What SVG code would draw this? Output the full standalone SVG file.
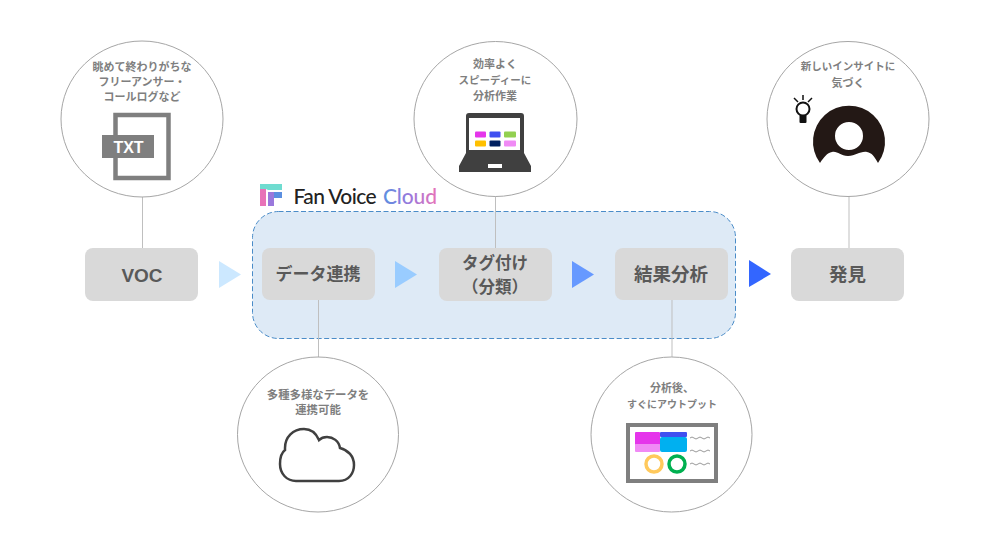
<svg xmlns="http://www.w3.org/2000/svg" width="1000" height="549" viewBox="0 0 1000 549">
<style>
.jp{font-family:"Noto Sans CJK JP","Noto Sans",sans-serif;font-weight:700;text-anchor:middle}
.cap{font-size:11px;fill:#7f7f7f}
.lab{font-size:17px;fill:#595959}
.lab2{font-size:18.500px;fill:#595959}
.bub{fill:#fff;stroke:#a6a6a6;stroke-width:1}
.node{fill:#d9d9d9}
.conn{stroke:#bfbfbf;stroke-width:1;fill:none}
.sq{fill:none;stroke:#7f7f7f;stroke-width:.8}
.logo{font-family:"Lato","Noto Sans",sans-serif;font-size:21px;font-weight:500}
</style>
<defs>
<linearGradient id="cg" x1="383" y1="0" x2="437" y2="0" gradientUnits="userSpaceOnUse">
<stop offset="0" stop-color="#5b8fe0"/><stop offset=".5" stop-color="#9a78dc"/><stop offset="1" stop-color="#e873b8"/>
</linearGradient>
</defs>
<rect width="1000" height="549" fill="#fff"/>
<rect id="platform" x="252.500" y="211.500" width="483" height="127" rx="26" fill="#deeaf6" stroke="#4a8cc8" stroke-width="1" stroke-dasharray="5 2.500"/>
<g id="connectors">
<path class="conn" d="M142.500 197V248M495.500 196V248M849 196V248M318.500 300V357M672 300V357"/>
<polygon points="219,261 241,274.500 219,288" fill="#cce8ff"/>
<polygon points="395,261 417,274.500 395,288" fill="#99ccff"/>
<polygon points="572,261 594,274.500 572,288" fill="#6699ff"/>
<polygon points="749,260 771,274 749,287" fill="#3366ff"/>
</g>
<g id="logo">
<path d="M260 184H282V190H274L268 190L266 189H260Z" fill="#6fdcd0"/>
<path d="M260 189H266V206H260Z" fill="#e873b8"/>
<path d="M268 192H274V206H268Z" fill="#9a78dc"/>
<path d="M274 192H282V198H274Z" fill="#5b8fe0"/>
<text class="logo" x="293.500" y="204" fill="#222" textLength="83">Fan Voice</text>
<text class="logo" x="383" y="204" fill="url(#cg)" textLength="54">Cloud</text>
</g>
<g id="node-voc"><rect class="node" x="85" y="248" width="113" height="53" rx="8"/><text x="142" y="282" text-anchor="middle" font-family="Liberation Sans,sans-serif" font-weight="700" font-size="19" fill="#595959">VOC</text></g>
<g id="node-data"><rect class="node" x="262" y="248" width="113" height="52" rx="8"/><text class="jp lab" x="318" y="280">データ連携</text></g>
<g id="node-tag"><rect class="node" x="439" y="248" width="113" height="53" rx="8"/><text class="jp" x="495" y="269" font-size="16.500" fill="#595959">タグ付け</text><text class="jp" x="495" y="293" font-size="16.500" fill="#595959">（分類）</text></g>
<g id="node-result"><rect class="node" x="615" y="248" width="113" height="52" rx="8"/><text class="jp lab2" x="671" y="281">結果分析</text></g>
<g id="node-find"><rect class="node" x="791" y="248" width="113" height="53" rx="8"/><text class="jp lab2" x="847.500" y="281">発見</text></g>
<g id="bubble-voc">
<ellipse class="bub" cx="142" cy="119" rx="81" ry="78"/>
<text class="jp cap" x="142" y="71">眺めて終わりがちな</text>
<text class="jp cap" x="142" y="86">フリーアンサー・</text>
<text class="jp cap" x="142" y="101">コールログなど</text>
<rect x="115.500" y="115" width="53" height="63" fill="#fff" stroke="#7f7f7f" stroke-width="4.500"/>
<rect x="102" y="135" width="52" height="23" fill="#7f7f7f"/>
<text x="128.500" y="152.500" text-anchor="middle" font-family="Liberation Sans,sans-serif" font-weight="700" font-size="16" fill="#fff">TXT</text>
</g>
<g id="bubble-work">
<ellipse class="bub" cx="495.500" cy="119" rx="81.500" ry="77.500"/>
<text class="jp cap" x="495" y="68">効率よく</text>
<text class="jp cap" x="495" y="84" style="font-size:10.500px">スピーディーに</text>
<text class="jp cap" x="495" y="100">分析作業</text>
<path d="M469 113H521Q524 113 524 116V153L531 166V172H459V166L466 153V116Q466 113 469 113Z" fill="#404040"/>
<rect x="469" y="118" width="51" height="32" fill="#fff"/>
<rect x="488" y="164" width="14" height="4" fill="#fff"/>
<rect x="475" y="131.500" width="11" height="6" rx="1" fill="#e535eb"/>
<rect x="489.500" y="131.500" width="11" height="6" rx="1" fill="#4050f0"/>
<rect x="504" y="131.500" width="12" height="6" rx="1" fill="#92d050"/>
<rect x="475" y="140.500" width="11" height="6" rx="1" fill="#ffc000"/>
<rect x="489.500" y="140.500" width="11" height="6" rx="1" fill="#002060"/>
<rect x="504" y="140.500" width="12" height="6" rx="1" fill="#f08af5"/>
</g>
<g id="bubble-insight">
<ellipse class="bub" cx="848" cy="119" rx="81" ry="77.500"/>
<text class="jp cap" x="848" y="70" style="font-size:10.500px">新しいインサイトに</text>
<text class="jp cap" x="848" y="87">気づく</text>
<path fill-rule="evenodd" fill="#231815" d="M820 163A36 36 0 1 1 878 163C874 156 872 153 867 152C860 151 856 156 848 156C840 156 838 151 832 152C827 153 824 157 820 163ZM849 122A14 14 0 1 0 849 150A14 14 0 1 0 849 122Z"/>
<circle cx="803" cy="109" r="6.500" fill="none" stroke="#111" stroke-width="2"/>
<path d="M803 95V100M794 98L798 102M812 98L808 102" fill="none" stroke="#111" stroke-width="1.500"/>
<rect x="799.500" y="115" width="7" height="8" rx="1" fill="#111"/>
</g>
<g id="bubble-cloud">
<ellipse class="bub" cx="318" cy="434.500" rx="80.500" ry="77.500"/>
<text class="jp cap" x="318" y="399" style="font-size:11.400px">多種多様なデータを</text>
<text class="jp cap" x="318" y="414" style="font-size:11.400px">連携可能</text>
<path fill="#fff" stroke="#404040" stroke-width="2.500" d="M296 481H339C349 481 354 473 354 465C354 456 348 450 340 448C339 441 333 437 327 437C324 437 321 438 319 440C316 433 311 429 304 429C293 429 285 437 285 448C285 449 285 449 285 450C281 453 280 458 280 464C280 474 287 481 296 481Z"/>
</g>
<g id="bubble-output">
<ellipse class="bub" cx="671.500" cy="434.500" rx="80.500" ry="77.500"/>
<text class="jp cap" x="672" y="392">分析後、</text>
<text class="jp cap" x="672" y="408" style="font-size:10px">すぐにアウトプット</text>
<rect x="628" y="425" width="88" height="56" fill="#fff" stroke="#7f7f7f" stroke-width="4"/>
<rect x="635" y="432" width="25" height="13" rx="1" fill="#e535eb"/>
<rect x="635" y="444" width="25" height="8" rx="1" fill="#f08af5"/>
<rect x="660" y="432" width="27" height="5" rx="1" fill="#4050f0"/>
<rect x="660" y="437" width="27" height="15" rx="2" fill="#00b0f0"/>
<circle cx="654" cy="464" r="8" fill="none" stroke="#ffc95c" stroke-width="3.500"/>
<circle cx="677" cy="464" r="8" fill="none" stroke="#00b050" stroke-width="3.500"/>
<path class="sq" d="M690 438q2-2 4 0t4 0q2-2 4 0t4 0q2-2 4 0M690 451q2-2 4 0t4 0q2-2 4 0t4 0q2-2 4 0M690 464q2-2 4 0t4 0q2-2 4 0t4 0q2-2 4 0"/>
</g>
</svg>
